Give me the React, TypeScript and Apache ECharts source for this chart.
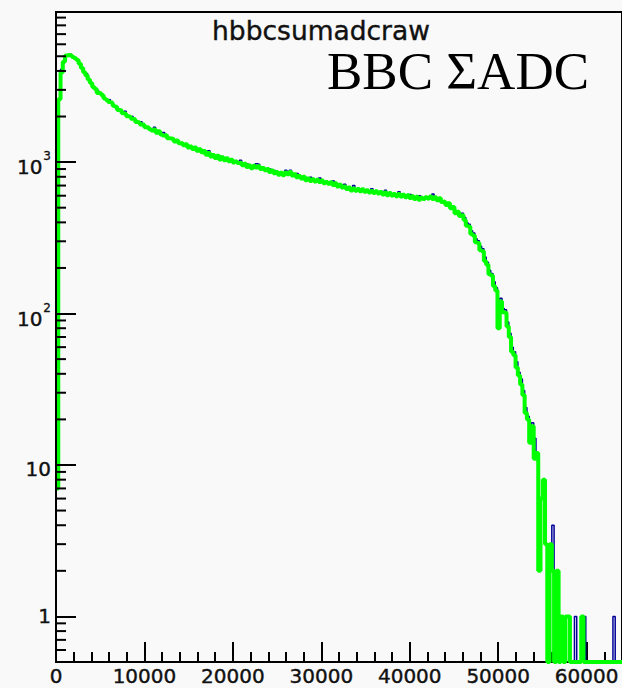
import React, { useEffect, useRef } from "react";
import * as echarts from "echarts";

// Histogram name and the in-frame label
const HIST_NAME = "hbbcsumadcraw";
const PLOT_LABEL = "BBC \u03A3ADC";

// Binning of the raw BBC ADC sum (counts per 256-ADC bin, 0 .. 64000)
const BIN_WIDTH = 256;
const X_MIN = 0;
const X_MAX = 64000;
const X_MAJOR_STEP = 10000;
const X_MINOR_STEP = 2000;

// Log-scale range of the count axis
const Y_MIN = 0.5;
const Y_MAX = 9800;

// Minor ticks of the log axis
const Y_MINOR_TICKS = [
  0.6, 0.7, 0.8, 0.9,
  2, 3, 4, 5, 6, 7, 8, 9,
  20, 30, 40, 50, 60, 70, 80, 90,
  200, 300, 400, 500, 600, 700, 800, 900,
  2000, 3000, 4000, 5000, 6000, 7000, 8000, 9000,
];

// Green histogram (drawn on top)
const GREEN_COUNTS = [
  7, 2600, 3900, 4600, 5050, 5100, 5050, 4950, 4850, 4720, 4460, 4180, 3920, 3730, 3510, 3330, 3130, 3040, 2860, 2850,
  2760, 2630, 2570, 2490, 2470, 2360, 2320, 2210, 2190, 2100, 2090, 2010, 1990, 1930, 1920, 1840, 1830, 1770, 1770, 1700,
  1700, 1650, 1620, 1640, 1560, 1600, 1520, 1500, 1510, 1440, 1430, 1420, 1370, 1390, 1330, 1340, 1290, 1310, 1250, 1270,
  1220, 1250, 1190, 1215, 1160, 1185, 1120, 1150, 1090, 1115, 1065, 1100, 1040, 1075, 1030, 1060, 1015, 1035, 995, 1010,
  985, 995, 955, 975, 930, 950, 910, 945, 920, 940, 900, 915, 885, 900, 860, 880, 845, 860, 825, 850,
  820, 855, 830, 860, 815, 830, 795, 810, 780, 800, 760, 780, 750, 770, 745, 765, 740, 755, 725, 740,
  720, 735, 705, 725, 690, 710, 680, 690, 665, 680, 650, 670, 648, 665, 642, 662, 638, 652, 630, 645,
  625, 642, 620, 635, 610, 630, 605, 625, 602, 615, 595, 615, 592, 608, 585, 603, 580, 595, 570, 590,
  565, 582, 570, 586, 575, 592, 570, 585, 560, 578, 545, 550, 520, 535, 495, 505, 460, 470, 440, 445,
  415, 380, 375, 335, 328, 296, 292, 262, 258, 222, 210, 182, 178, 152, 142, 80, 120, 102, 101, 82,
  70, 56, 53, 44, 39, 34, 29, 22, 20, 14, 18, 11, 12, 2, 6, 8, 3, 0, 3, 2,
  0, 2, 0, 1, 0, 1, 1, 0, 0, 0, 0, 0, 1, 0, 0, 0, 0, 0, 0, 0,
  0, 0, 0, 0, 0, 0, 0, 0, 0, 0,
];

// Blue histogram (drawn underneath)
const BLUE_COUNTS = [
  900, 2600, 4100, 4600, 5050, 5100, 5150, 4950, 4850, 4720, 4460, 4180, 3920, 3830, 3510, 3330, 3130, 3040, 2950, 2850,
  2760, 2630, 2570, 2590, 2470, 2360, 2320, 2210, 2190, 2100, 2170, 2010, 1990, 2010, 1920, 1840, 1830, 1850, 1770, 1700,
  1700, 1650, 1620, 1700, 1560, 1600, 1520, 1570, 1510, 1440, 1430, 1420, 1370, 1390, 1330, 1340, 1290, 1310, 1250, 1270,
  1220, 1250, 1190, 1215, 1160, 1185, 1120, 1190, 1090, 1115, 1065, 1100, 1095, 1075, 1030, 1060, 1015, 1035, 995, 1010,
  985, 1030, 955, 975, 970, 950, 910, 945, 975, 965, 900, 915, 885, 900, 900, 880, 880, 860, 825, 850,
  820, 885, 830, 885, 815, 830, 840, 810, 780, 800, 760, 780, 795, 770, 745, 765, 785, 755, 725, 740,
  720, 735, 750, 725, 690, 710, 680, 715, 665, 680, 650, 700, 648, 665, 642, 662, 638, 652, 630, 668,
  625, 642, 620, 635, 610, 652, 605, 625, 602, 615, 595, 637, 592, 608, 585, 603, 612, 595, 570, 590,
  600, 582, 570, 586, 575, 592, 615, 585, 560, 578, 545, 550, 520, 535, 495, 505, 478, 470, 440, 460,
  430, 398, 388, 352, 340, 312, 302, 278, 268, 236, 218, 193, 184, 162, 148, 88, 126, 108, 106, 88,
  74, 60, 56, 48, 41, 37, 31, 24, 21, 16, 19, 15, 12, 3, 6, 8, 3, 3, 2, 4,
  0, 2, 0, 1, 0, 1, 1, 0, 0, 1, 0, 0, 0, 1, 0, 0, 0, 0, 0, 0,
  0, 0, 0, 0, 0, 0, 1, 0, 0, 0,
];

const FONT = "DejaVu Sans, Liberation Sans, Arial, sans-serif";
const SERIF = "Liberation Serif, Times New Roman, serif";
const INK = "#111";
const BG = "#f9f9f9";

// Histogram outline: one point per lower bin edge plus the closing upper edge.
// Empty bins sit on the axis floor, as the frame bottom of a log plot.
function toSteps(counts: number[]): number[][] {
  const pts = counts.map((c, i) => [X_MIN + i * BIN_WIDTH, c > 0 ? c : Y_MIN]);
  pts.push([X_MIN + counts.length * BIN_WIDTH, pts[pts.length - 1][1]]);
  return pts;
}

function decadeLabel(v: number): string {
  const lg = Math.log10(v);
  const e = Math.round(lg);
  if (Math.abs(lg - e) > 1e-6 || e < 0) return "";
  if (e === 0) return "{one|1}";
  if (e === 1) return "{ten|10}";
  return `{b|10}{s|${e}}`;
}

const labelInk = { color: INK, fontFamily: FONT, textBorderColor: INK, textBorderWidth: 0.4 };

export default function App() {
  const ref = useRef<HTMLDivElement>(null);

  useEffect(() => {
    if (!ref.current) return;
    const chart = echarts.init(ref.current, undefined, { renderer: "svg" });

    const option: any = {
      animation: false,
      backgroundColor: BG,
      grid: {
        left: 56,
        right: -2,
        top: 12,
        bottom: 26,
        show: true,
        backgroundColor: BG,
        borderColor: "#000",
        borderWidth: 2,
      },
      xAxis: [
        {
          type: "value",
          min: X_MIN,
          max: X_MAX,
          interval: X_MAJOR_STEP,
          axisLine: { onZero: false, lineStyle: { color: "#000", width: 2 } },
          axisTick: { inside: true, length: 20, lineStyle: { color: "#000", width: 2 } },
          axisLabel: {
            margin: 4,
            fontSize: 20,
            ...labelInk,
            showMaxLabel: false,
            formatter: (v: number) => String(Math.round(v)),
          },
          splitLine: { show: false },
        },
        {
          type: "value",
          position: "bottom",
          min: X_MIN,
          max: X_MAX,
          interval: X_MINOR_STEP,
          axisLine: { show: false, onZero: false },
          axisTick: { inside: true, length: 10, lineStyle: { color: "#000", width: 2 } },
          axisLabel: { show: false },
          splitLine: { show: false },
        },
      ],
      yAxis: {
        type: "log",
        logBase: 10,
        min: Y_MIN,
        max: Y_MAX,
        z: 10,
        axisLine: { lineStyle: { color: "#000", width: 2 } },
        axisTick: { inside: true, length: 20, lineStyle: { color: "#000", width: 2 } },
        splitLine: { show: false },
        axisLabel: {
          margin: 5,
          showMinLabel: false,
          showMaxLabel: false,
          formatter: decadeLabel,
          rich: {
            one: { fontSize: 20, ...labelInk },
            ten: { fontSize: 20, ...labelInk, padding: [8, 0, 0, 0] },
            b: { fontSize: 20, ...labelInk, padding: [10, 0, 0, 0] },
            s: { fontSize: 12, ...labelInk, textBorderWidth: 0.3, verticalAlign: "top", padding: [3, 0, 0, 1] },
          },
        },
      },
      series: [
        {
          type: "line",
          data: toSteps(BLUE_COUNTS),
          step: "end",
          symbol: "none",
          showSymbol: false,
          clip: false,
          lineStyle: { color: "#000099", width: 1.5 },
          z: 2,
        },
        {
          type: "line",
          data: toSteps(GREEN_COUNTS),
          step: "end",
          symbol: "none",
          showSymbol: false,
          clip: false,
          lineStyle: { color: "#00ff00", width: 4 },
          z: 3,
        },
        {
          type: "custom",
          silent: true,
          clip: false,
          z: 10,
          data: Y_MINOR_TICKS.map((v) => [X_MIN, v]),
          renderItem: (_params: any, api: any) => {
            const p = api.coord([X_MIN, api.value(1)]);
            return {
              type: "line",
              shape: { x1: p[0], y1: p[1], x2: p[0] + 10, y2: p[1] },
              style: { stroke: "#000", lineWidth: 2 },
            };
          },
        },
      ],
      graphic: [
        {
          type: "text",
          x: 321,
          y: 30,
          style: {
            text: HIST_NAME,
            font: `26.5px ${FONT}`,
            fill: INK,
            stroke: INK,
            lineWidth: 0.4,
            textAlign: "center",
            textVerticalAlign: "middle",
          },
        },
        {
          type: "text",
          x: 458,
          y: 71,
          style: {
            text: PLOT_LABEL,
            font: `53px ${SERIF}`,
            fill: "#000",
            textAlign: "center",
            textVerticalAlign: "middle",
          },
        },
      ],
    };

    chart.setOption(option);
    return () => chart.dispose();
  }, []);

  return (
    <div
      ref={ref}
      style={{ position: "fixed", left: 0, top: 0, width: 622, height: 688, background: BG }}
    />
  );
}
